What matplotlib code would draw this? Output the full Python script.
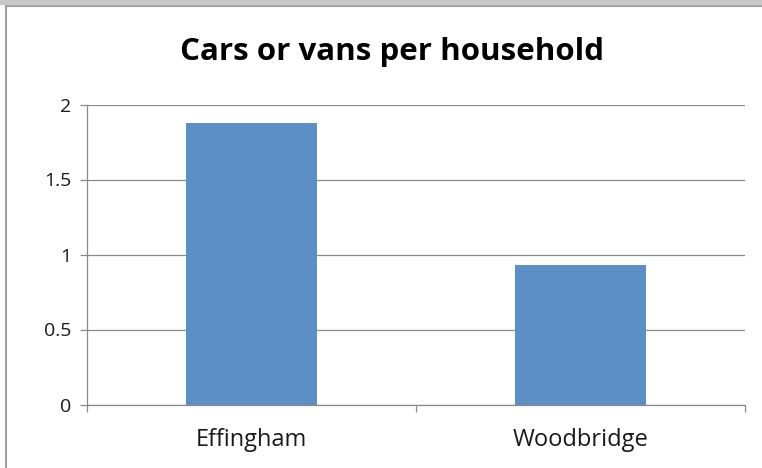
import matplotlib.pyplot as plt
from matplotlib.patches import Rectangle

towns = ['Effingham', 'Woodbridge']
cars_per_household = [1.88, 0.93]
y_ticks = [0, 0.5, 1, 1.5, 2]
y_labels = ['0', '0.5', '1', '1.5', '2']

plt.rcParams['font.family'] = ['Open Sans', 'DejaVu Sans']

fig = plt.figure(figsize=(7.62, 4.68), dpi=100)
ax = fig.add_axes([87/762, 1 - 404.5/468, (745 - 87)/762, 300/468])

grey = '#8a8a8a'
x = list(range(len(towns)))
ax.bar(x, cars_per_household, width=0.4, color='#5B8FC6', zorder=3)

ax.set_xlim(-0.5, len(towns) - 0.5)
ax.set_ylim(0, 2)
ax.set_yticks(y_ticks)
ax.set_yticklabels(y_labels)
ax.set_xticks(x)
ax.set_xticklabels(towns)
ax.set_xticks([i - 0.5 for i in range(len(towns) + 1)], minor=True)

ax.grid(axis='y', color=grey, linewidth=0.9, zorder=0)
for s in ['top', 'right']:
    ax.spines[s].set_visible(False)
for s in ['left', 'bottom']:
    ax.spines[s].set_color(grey)
    ax.spines[s].set_linewidth(0.9)

ax.tick_params(axis='y', length=5, color=grey, width=0.9, pad=6,
               labelsize=14, labelcolor='#1a1a1a')
ax.tick_params(axis='x', which='major', length=0, pad=17,
               labelsize=17, labelcolor='#1a1a1a')
ax.tick_params(axis='x', which='minor', length=5, color=grey, width=0.9)

fig.text(392/762, 1 - 52/468, 'Cars or vans per household', ha='center',
         va='center', fontsize=22.5, fontweight='bold', color='black')

# outer chart frame
fig.patches.append(Rectangle((6/762, -0.1), 1.2, 1 - 6/468 + 0.1,
                             transform=fig.transFigure, fill=False,
                             edgecolor='#a0a0a0', linewidth=1.5))
fig.patches.append(Rectangle((0, 1 - 4/468), 1, 4/468,
                             transform=fig.transFigure, color='#c8c8c8'))

fig.savefig('out.png', dpi=100)
